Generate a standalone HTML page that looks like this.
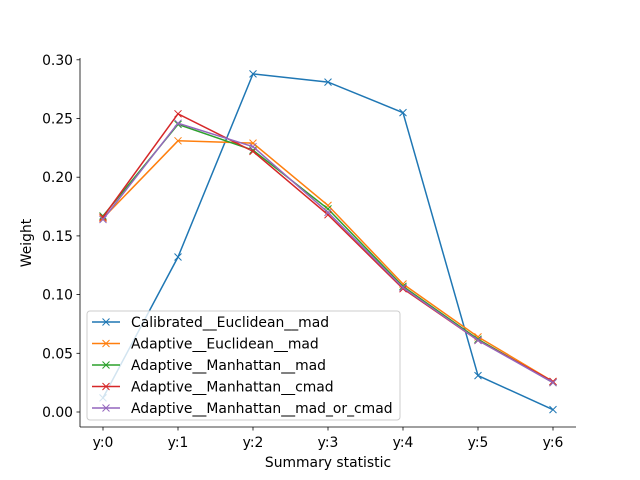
<!DOCTYPE html>
<html><head><meta charset="utf-8"><style>body{margin:0;background:#fff}svg{display:block;font-family:"DejaVu Sans","Liberation Sans",sans-serif}</style></head>
<body>
<svg id="c" width="640" height="480"></svg>
<script>
const categories=["y:0","y:1","y:2","y:3","y:4","y:5","y:6"];
const seriesNames=["Calibrated__Euclidean__mad","Adaptive__Euclidean__mad","Adaptive__Manhattan__mad","Adaptive__Manhattan__cmad","Adaptive__Manhattan__mad_or_cmad"];
const calibrated=[0.012,0.132,0.288,0.281,0.255,0.031,0.002];
const adaptiveEuclidean=[0.165,0.231,0.229,0.176,0.109,0.064,0.026];
const manhattanMad=[0.167,0.245,0.223,0.173,0.107,0.062,0.025];
const manhattanCmad=[0.166,0.254,0.222,0.168,0.105,0.061,0.026];
const manhattanMadOrCmad=[0.164,0.246,0.226,0.170,0.106,0.061,0.025];
const yTicks=[0,0.05,0.10,0.15,0.20,0.25,0.30];
const colors=["#1f77b4","#ff7f0e","#2ca02c","#d62728","#9467bd"];
const series=[calibrated,adaptiveEuclidean,manhattanMad,manhattanCmad,manhattanMadOrCmad];
const svg=document.getElementById('c');const NS="http://www.w3.org/2000/svg";
function el(t,a,p){const e=document.createElementNS(NS,t);for(const k in a)e.setAttribute(k,a[k]);(p||svg).appendChild(e);return e;}
const L=80,R=576,T=58,B=427,FS=13.9;
const xs=i=>103+i*75;
const ys=v=>412-v/0.05*58.7;
let e;
e=el('line',{x1:L,y1:T,x2:L,y2:B,stroke:'#000','stroke-width':0.8});

e=el('line',{x1:L,y1:B,x2:R,y2:B,stroke:'#000','stroke-width':0.8});

yTicks.forEach(v=>{const y=ys(v);el('line',{x1:L-3.5,y1:y,x2:L,y2:y,stroke:'#000','stroke-width':0.8});
e=el('text',{x:L-7,y:y+5,'text-anchor':'end','font-size':FS});e.textContent=v.toFixed(2);
});
categories.forEach((c,i)=>{const x=xs(i);el('line',{x1:x,y1:B,x2:x,y2:B+3.5,stroke:'#000','stroke-width':0.8});
e=el('text',{x:x,y:B+20,'text-anchor':'middle','font-size':FS});e.textContent=c;
});
e=el('text',{x:328,y:467,'text-anchor':'middle','font-size':FS});e.textContent='Summary statistic';

e=el('text',{x:31,y:243,'text-anchor':'middle','font-size':FS,transform:'rotate(-90 31 243)'});e.textContent='Weight';

function marker(g,x,y,c){el('path',{d:`M${x-3.5},${y-3.5}L${x+3.5},${y+3.5}M${x-3.5},${y+3.5}L${x+3.5},${y-3.5}`,stroke:c,'stroke-width':1},g);}
series.forEach((s,k)=>{const g=el('g',{});
el('polyline',{points:s.map((v,i)=>xs(i)+','+ys(v)).join(' '),fill:'none',stroke:colors[k],'stroke-width':1.5},g);
s.forEach((v,i)=>marker(g,xs(i),ys(v),colors[k]));});
const lg=el('g',{});
el('rect',{x:87,y:311,width:313,height:109,rx:3,fill:'#fff','fill-opacity':0.8,stroke:'#ccc'},lg);
seriesNames.forEach((n,k)=>{const y=322+k*21.5;
el('line',{x1:92,y1:y,x2:120,y2:y,stroke:colors[k],'stroke-width':1.5},lg);marker(lg,106,y,colors[k]);
const t=el('text',{x:131,y:y+5,'font-size':FS},lg);t.textContent=n;
});
</script>
</body></html>
